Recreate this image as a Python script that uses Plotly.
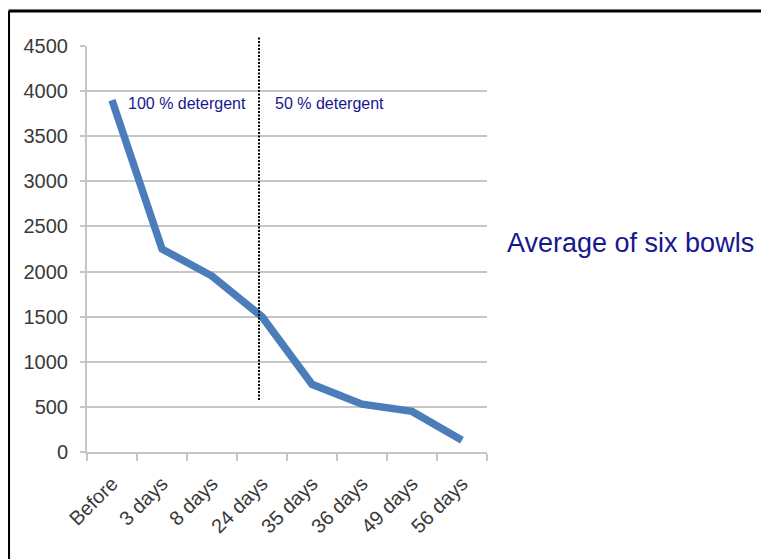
import plotly.graph_objects as go

categories = ["Before", "3 days", "8 days", "24 days", "35 days", "36 days", "49 days", "56 days"]
values = [3900, 2250, 1950, 1500, 750, 530, 450, 130]
y_ticks = [0, 500, 1000, 1500, 2000, 2500, 3000, 3500, 4000, 4500]

divider_x = 2.94
label_left = "100 % detergent"
label_right = "50 % detergent"
side_title = "Average of six bowls"

navy = "#17178f"
grid = "#c6c6c6"
text_grey = "#3a3a3a"

fig = go.Figure()
fig.add_trace(go.Scatter(
    x=categories, y=values, mode="lines",
    line=dict(color="#4a7dba", width=7.5),
    hoverinfo="skip", showlegend=False,
))

# frame: white panel with black top/left border
fig.add_shape(type="rect", xref="paper", yref="paper",
              x0=-0.195, x1=1.8, y0=-0.35, y1=1.0862,
              fillcolor="white", line=dict(width=0), layer="below")
fig.add_shape(type="line", xref="paper", yref="paper",
              x0=-0.196, x1=1.8, y0=1.0862, y1=1.0862,
              line=dict(color="black", width=3))
fig.add_shape(type="line", xref="paper", yref="paper",
              x0=-0.1955, x1=-0.1955, y0=-0.35, y1=1.0862,
              line=dict(color="black", width=2.5))

# divider (dotted)
fig.add_shape(type="line", xref="x", yref="paper",
              x0=divider_x, x1=divider_x, y0=0.128, y1=1.0246,
              line=dict(color="black", width=2, dash="2px,1.5px"))

fig.add_annotation(x=1.5, y=3868, xref="x", yref="y", text=label_left,
                   xanchor="center", yanchor="middle",
                   showarrow=False, font=dict(family="Liberation Sans", size=16, color=navy))
fig.add_annotation(x=4.34, y=3868, xref="x", yref="y", text=label_right,
                   xanchor="center", yanchor="middle",
                   showarrow=False, font=dict(family="Liberation Sans", size=16, color=navy))
fig.add_annotation(x=1.3575, y=0.515, xref="paper", yref="paper", text=side_title,
                   xanchor="center", yanchor="middle",
                   showarrow=False, font=dict(family="Liberation Sans", size=27, color=navy))

fig.update_layout(
    width=769, height=559,
    margin=dict(l=79, r=290, t=38, b=115),
    paper_bgcolor="#fdf7ea",
    plot_bgcolor="white",
    font=dict(family="Liberation Sans", color=text_grey),
)
fig.update_xaxes(
    type="category", categoryorder="array", categoryarray=categories,
    range=[-0.5, 7.5], tickangle=-45, tickson="boundaries",
    ticks="outside", ticklen=7, tickcolor=grid, tickwidth=2,
    showline=True, linecolor=grid, linewidth=2, showgrid=False,
    ticklabelstandoff=10,
    tickfont=dict(size=20, color=text_grey),
)
fig.update_yaxes(
    range=[0, 4500], tickvals=y_ticks, ticktext=[str(v) for v in y_ticks],
    showgrid=True, gridcolor=grid, gridwidth=2,
    zeroline=False, showline=True, linecolor=grid, linewidth=2,
    ticks="outside", ticklen=5, tickcolor=grid, tickwidth=2,
    ticklabelstandoff=8,
    tickfont=dict(size=20, color=text_grey),
)

fig.write_html("out.html")
